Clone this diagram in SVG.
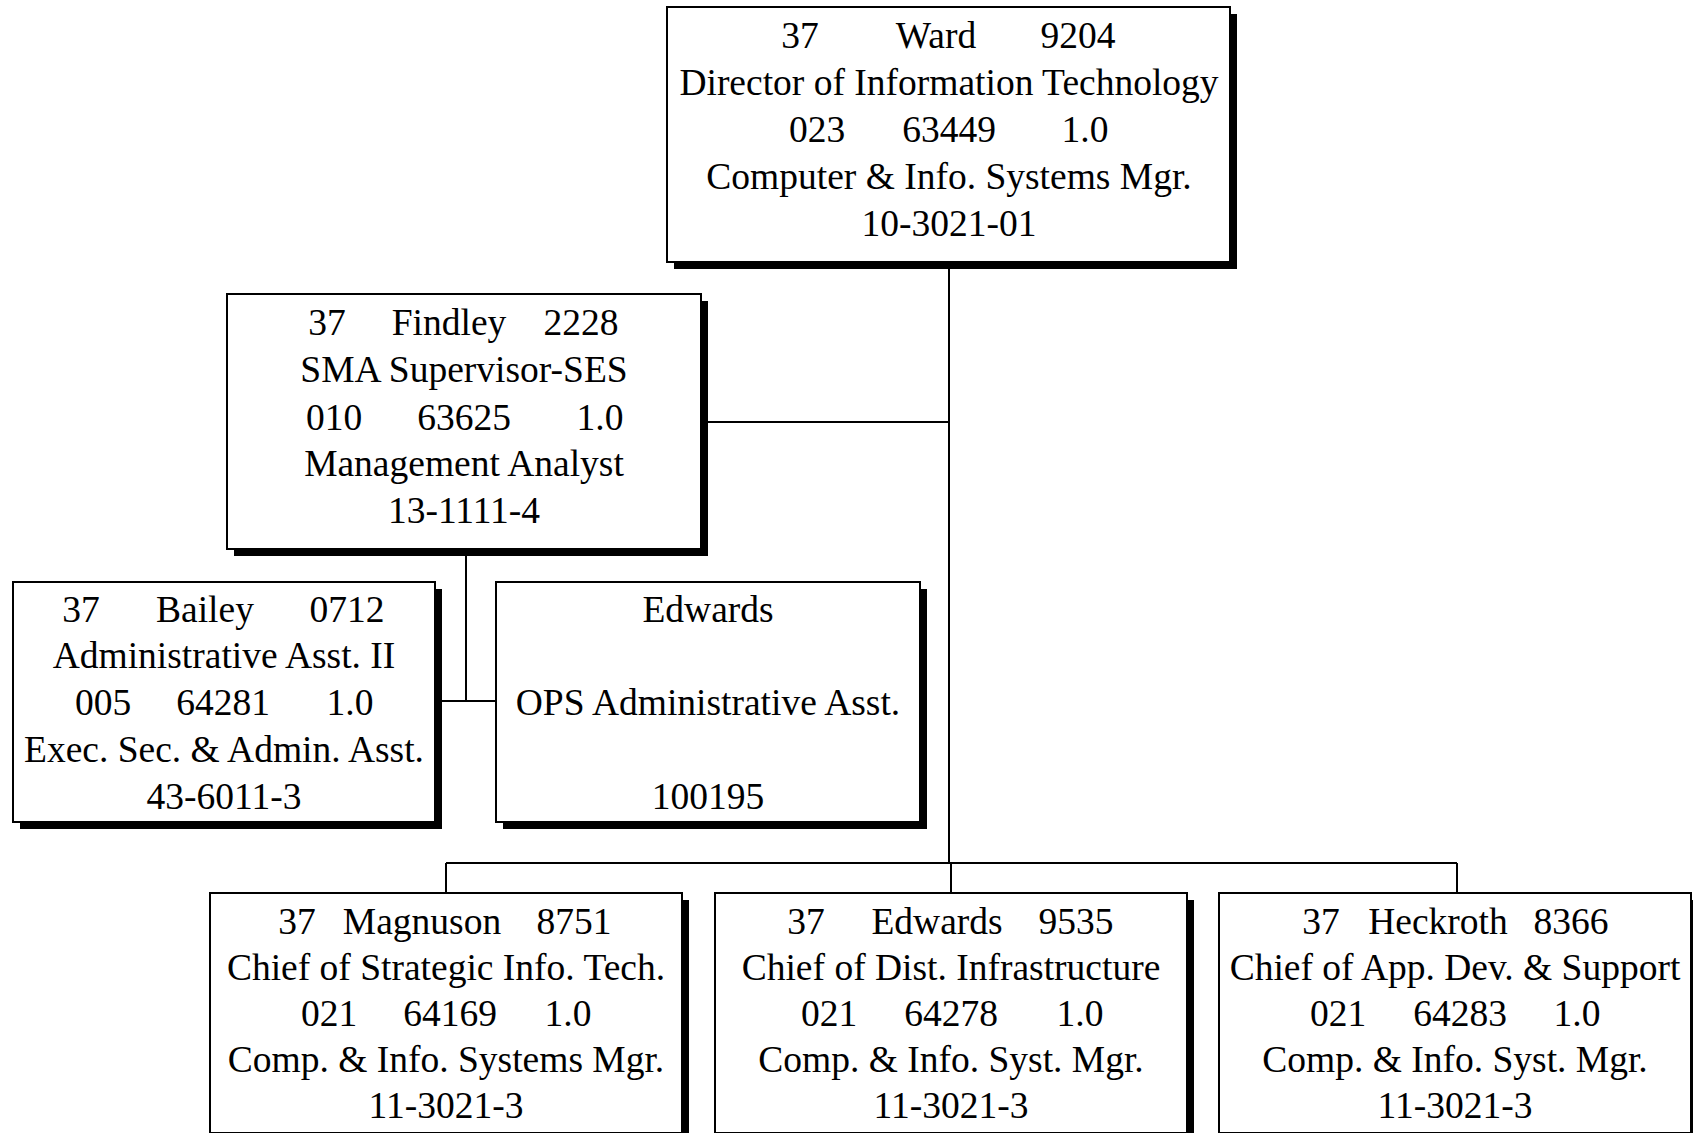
<svg xmlns="http://www.w3.org/2000/svg" width="1693" height="1133" viewBox="0 0 1693 1133">
  <style>
    .bg { fill: #ffffff; }
    .shadow { fill: #000000; }
    .box { fill: #ffffff; stroke: #000000; stroke-width: 2; }
    .wire { fill: none; stroke: #000000; stroke-width: 2; }
    text { font-family: "Liberation Serif", "Times New Roman", serif; font-size: 37.5px; fill: #000000; text-anchor: middle; }
  </style>
  <rect class="bg" x="0" y="0" width="1693" height="1133"/>

  <!-- reporting lines -->
  <g id="connectors">
    <path class="wire" d="M949 262 V863"/>
    <path class="wire" d="M708 422 H949"/>
    <path class="wire" d="M446 863 H1457"/>
    <path class="wire" d="M446 863 V893"/>
    <path class="wire" d="M951 863 V893"/>
    <path class="wire" d="M1457 863 V893"/>
    <path class="wire" d="M466 556 V701"/>
    <path class="wire" d="M442 701 H496"/>
  </g>

  <!-- Director -->
  <g id="ward">
    <rect class="shadow" x="674" y="14" width="563" height="255"/>
    <rect class="box" x="667" y="7" width="563" height="255"/>
    <text x="800" y="48">37</text>
    <text x="936" y="48">Ward</text>
    <text x="1078" y="48">9204</text>
    <text x="949" y="95">Director of Information Technology</text>
    <text x="817" y="142">023</text>
    <text x="949" y="142">63449</text>
    <text x="1085" y="142">1.0</text>
    <text x="949" y="189">Computer &amp; Info. Systems Mgr.</text>
    <text x="949" y="236">10-3021-01</text>
  </g>

  <!-- Supervisor -->
  <g id="findley">
    <rect class="shadow" x="234" y="301" width="474" height="255"/>
    <rect class="box" x="227" y="294" width="474" height="255"/>
    <text x="327" y="335">37</text>
    <text x="449" y="335">Findley</text>
    <text x="581" y="335">2228</text>
    <text x="464" y="382">SMA Supervisor-SES</text>
    <text x="334" y="430">010</text>
    <text x="464" y="430">63625</text>
    <text x="600" y="430">1.0</text>
    <text x="464" y="476">Management Analyst</text>
    <text x="464" y="523">13-1111-4</text>
  </g>

  <!-- Administrative assistant -->
  <g id="bailey">
    <rect class="shadow" x="20" y="589" width="422" height="240"/>
    <rect class="box" x="13" y="582" width="422" height="240"/>
    <text x="81" y="622">37</text>
    <text x="205" y="622">Bailey</text>
    <text x="347" y="622">0712</text>
    <text x="224" y="668">Administrative Asst. II</text>
    <text x="103" y="715">005</text>
    <text x="223" y="715">64281</text>
    <text x="350" y="715">1.0</text>
    <text x="224" y="762">Exec. Sec. &amp; Admin. Asst.</text>
    <text x="224" y="809">43-6011-3</text>
  </g>

  <!-- OPS assistant -->
  <g id="edwards-ops">
    <rect class="shadow" x="503" y="589" width="424" height="240"/>
    <rect class="box" x="496" y="582" width="424" height="240"/>
    <text x="708" y="622">Edwards</text>
    <text x="708" y="715">OPS Administrative Asst.</text>
    <text x="708" y="809">100195</text>
  </g>

  <!-- Chiefs -->
  <g id="magnuson">
    <rect class="shadow" x="217" y="900" width="472" height="240"/>
    <rect class="box" x="210" y="893" width="472" height="240"/>
    <text x="297" y="934">37</text>
    <text x="422" y="934">Magnuson</text>
    <text x="574" y="934">8751</text>
    <text x="446" y="980">Chief of Strategic Info. Tech.</text>
    <text x="329" y="1026">021</text>
    <text x="450" y="1026">64169</text>
    <text x="568" y="1026">1.0</text>
    <text x="446" y="1072">Comp. &amp; Info. Systems Mgr.</text>
    <text x="446" y="1118">11-3021-3</text>
  </g>

  <g id="edwards">
    <rect class="shadow" x="722" y="900" width="472" height="240"/>
    <rect class="box" x="715" y="893" width="472" height="240"/>
    <text x="806" y="934">37</text>
    <text x="937" y="934">Edwards</text>
    <text x="1076" y="934">9535</text>
    <text x="951" y="980">Chief of Dist. Infrastructure</text>
    <text x="829" y="1026">021</text>
    <text x="951" y="1026">64278</text>
    <text x="1080" y="1026">1.0</text>
    <text x="951" y="1072">Comp. &amp; Info. Syst. Mgr.</text>
    <text x="951" y="1118">11-3021-3</text>
  </g>

  <g id="heckroth">
    <rect class="shadow" x="1226" y="900" width="472" height="240"/>
    <rect class="box" x="1219" y="893" width="472" height="240"/>
    <text x="1321" y="934">37</text>
    <text x="1438" y="934">Heckroth</text>
    <text x="1571" y="934">8366</text>
    <text x="1455" y="980">Chief of App. Dev. &amp; Support</text>
    <text x="1338" y="1026">021</text>
    <text x="1460" y="1026">64283</text>
    <text x="1577" y="1026">1.0</text>
    <text x="1455" y="1072">Comp. &amp; Info. Syst. Mgr.</text>
    <text x="1455" y="1118">11-3021-3</text>
  </g>
</svg>
